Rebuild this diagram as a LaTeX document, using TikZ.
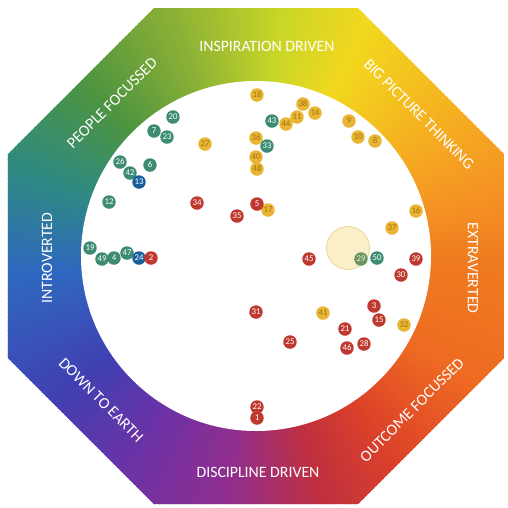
\documentclass[tikz,border=0pt]{standalone}
\usepackage{fontspec}
\setmainfont{Carlito}
\usepackage{xcolor}
\usepackage{tikz}

% Farben
\definecolor{v0}{HTML}{F07C1F}
\definecolor{v1}{HTML}{EE6A22}
\definecolor{v2}{HTML}{DC4228}
\definecolor{v3}{HTML}{BE2F40}
\definecolor{v4}{HTML}{922E8C}
\definecolor{v5}{HTML}{6C32A6}
\definecolor{v6}{HTML}{4040B2}
\definecolor{v7}{HTML}{2F68C0}
\definecolor{v8}{HTML}{2E8A80}
\definecolor{v9}{HTML}{4E9440}
\definecolor{v10}{HTML}{8AB036}
\definecolor{v11}{HTML}{C8D628}
\definecolor{v12}{HTML}{F2D81E}
\definecolor{v13}{HTML}{F5B420}
\definecolor{v14}{HTML}{F59224}
\definecolor{punktgelb}{HTML}{E9B532}
\definecolor{gelbschrift}{HTML}{9E7210}
\definecolor{punktgruen}{HTML}{3E8B73}
\definecolor{punktblau}{HTML}{195F9E}
\definecolor{punktrot}{HTML}{C0392F}
\definecolor{creme}{HTML}{FBEFC8}
\definecolor{cremerand}{HTML}{E8D38E}

\begin{document}
\begin{tikzpicture}[x=0.2mm, y=-0.2mm,
    punkt/.style={circle, inner sep=0pt, minimum size=2.7mm, font=\fontsize{5}{5}\selectfont},
    gelb/.style={punkt, fill=punktgelb, text=gelbschrift},
    gruen/.style={punkt, fill=punktgruen, text=white},
    blau/.style={punkt, fill=punktblau, text=white},
    rot/.style={punkt, fill=punktrot, text=white},
    achse/.style={text=white, font=\fontsize{9}{10}\selectfont}]

    \useasboundingbox (0,0) rectangle (508,508);

    % Achteck mit Farbverlauf
    \begin{scope}
        \clip (154,8) -- (358,8) -- (504,154) -- (504,358) -- (358,504) -- (154,504) -- (8,358) -- (8,154) -- cycle;
        \begin{scope}[shift={(256,256)}]
            \foreach \sa/\sb/\ca/\cb in {0/30/v0/v1, 30/55/v1/v2, 55/75/v2/v3, 75/95/v3/v4, 95/120/v4/v5, 120/145/v5/v6, 145/175/v6/v7, 175/200/v7/v8, 200/225/v8/v9, 225/250/v9/v10, 250/275/v10/v11, 275/295/v11/v12, 295/320/v12/v13, 320/345/v13/v14, 345/360/v14/v0}{
                \pgfmathtruncatemacro{\last}{\sb-1}
                \foreach \a in {\sa,...,\last}{
                    \pgfmathtruncatemacro{\p}{100*(\sb-\a)/(\sb-\sa)}
                    \fill[\ca!\p!\cb] (0,0) -- (\a:400) -- (\a+1.5:400) -- cycle;
                }
            }
        \end{scope}
    \end{scope}

    % weisser Innenkreis
    \fill[white] (256,256) circle [radius=175];

    % Achsenbeschriftung
    \node (inspiration) at (267,46) [achse] {INSPIRATION DRIVEN};
    \node (bigpicture) at (419,114) [achse, rotate=-45] {BIG PICTURE THINKING};
    \node (extra) at (473,268) [achse, rotate=-90] {EXTRAVERTED};
    \node (outcome) at (412,410) [achse, rotate=45] {OUTCOME FOCUSSED};
    \node (disziplin) at (258,472) [achse] {DISCIPLINE DRIVEN};
    \node (erde) at (101,400) [achse, rotate=-45] {DOWN TO EARTH};
    \node (intro) at (47,258) [achse, rotate=90] {INTROVERTED};
    \node (people) at (112,103) [achse, rotate=45] {PEOPLE FOCUSSED};

    % Schwerpunkt
    \node (fokus) at (348,248) [circle, minimum size=8.6mm, fill=creme, draw=cremerand, thin] {};

    % gelbe Punkte
    \node (p18) at (257,95) [gelb] {18};
    \node (p38) at (303,104) [gelb] {38};
    \node (p14) at (315,113) [gelb] {14};
    \node (p11) at (297,117) [gelb] {11};
    \node (p44) at (286,124) [gelb] {44};
    \node (p27) at (205,144) [gelb] {27};
    \node (p36) at (256,138) [gelb] {36};
    \node (p40) at (256,157) [gelb] {40};
    \node (p48) at (257,169) [gelb] {48};
    \node (p17) at (268,210) [gelb] {17};
    \node (p9) at (349,121) [gelb] {9};
    \node (p10) at (358,137) [gelb] {10};
    \node (p8) at (375,141) [gelb] {8};
    \node (p16) at (416,211) [gelb] {16};
    \node (p37) at (392,228) [gelb] {37};
    \node (p41) at (323,313) [gelb] {41};
    \node (p32) at (404,325) [gelb] {32};

    % gruene und blaue Punkte
    \node (p43) at (272,121) [gruen] {43};
    \node (p33) at (267,146) [gruen] {33};
    \node (p20) at (173,117) [gruen] {20};
    \node (p7) at (154,131) [gruen] {7};
    \node (p23) at (167,137) [gruen] {23};
    \node (p26) at (120,162) [gruen] {26};
    \node (p6) at (150,165) [gruen] {6};
    \node (p42) at (130,173) [gruen] {42};
    \node (p13) at (139,182) [blau] {13};
    \node (p12) at (109,202) [gruen] {12};
    \node (p19) at (90,248) [gruen] {19};
    \node (p49) at (102,259) [gruen] {49};
    \node (p4) at (114,258) [gruen] {4};
    \node (p47) at (127,253) [gruen] {47};
    \node (p24) at (139,258) [blau] {24};
    \node (p29) at (361,259) [gruen, fill=punktgruen!75!punktgelb, text=creme] {29};
    \node (p50) at (377,258) [gruen] {50};

    % rote Punkte
    \node (p2) at (151,258) [rot] {2};
    \node (p34) at (197,203) [rot] {34};
    \node (p35) at (237,216) [rot] {35};
    \node (p5) at (257,204) [rot] {5};
    \node (p45) at (309,259) [rot] {45};
    \node (p39) at (416,259) [rot] {39};
    \node (p30) at (401,275) [rot] {30};
    \node (p3) at (374,306) [rot] {3};
    \node (p15) at (379,320) [rot] {15};
    \node (p21) at (345,329) [rot] {21};
    \node (p28) at (364,344) [rot] {28};
    \node (p46) at (347,348) [rot] {46};
    \node (p25) at (290,342) [rot] {25};
    \node (p31) at (256,312) [rot] {31};
    \node (p22) at (257,407) [rot] {22};
    \node (p1) at (257,418) [rot] {1};

\end{tikzpicture}
\end{document}
